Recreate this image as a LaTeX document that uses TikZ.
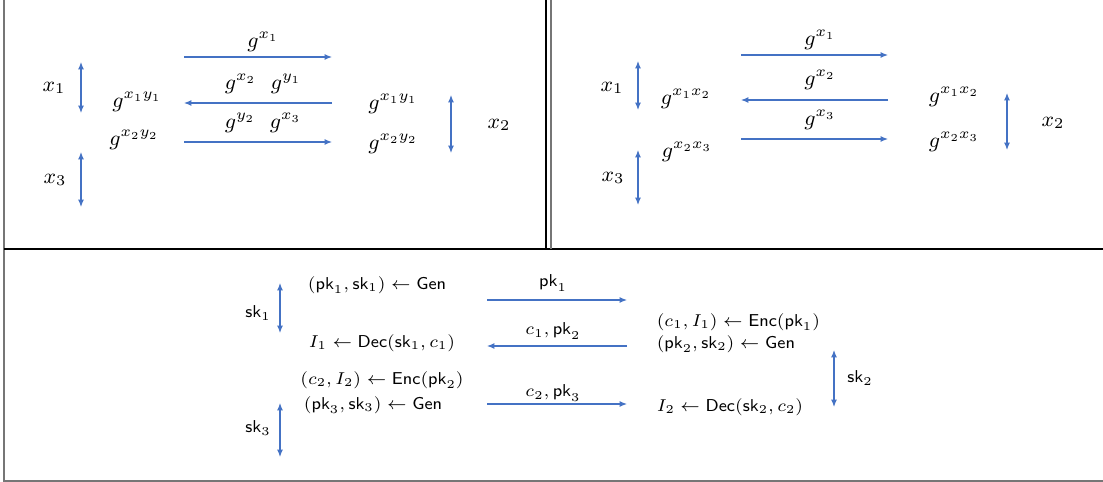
\RequirePackage{fix-cm}
\documentclass[tikz,border=0pt]{standalone}
\usepackage{amsmath,amssymb}
\usetikzlibrary{arrows.meta}
\definecolor{ArrBlue}{HTML}{4472C4}
\definecolor{FrameGray}{HTML}{767676}
\tikzset{
  msg/.style={ArrBlue,line width=0.5pt,-{Latex[length=3.2pt,width=2.6pt]}},
  keyarr/.style={ArrBlue,line width=0.5pt,{Latex[length=3.2pt,width=2.6pt]}-{Latex[length=3.2pt,width=2.6pt]}},
  val/.style={inner sep=1pt,font=\fontsize{9.2}{11}\selectfont},
  lab/.style={inner sep=1pt,font=\fontsize{7.4}{9}\selectfont},
}

\begin{document}
\begin{tikzpicture}[x=0.43pt,y=-0.43pt]
  \useasboundingbox (0,0) rectangle (1103,482);
  % frames
  \draw[FrameGray,line width=0.9pt] (4,0) -- (4,481) -- (1103,481);
  \draw[black,line width=0.7pt] (4,249) -- (1103,249);
  \draw[black,line width=0.7pt] (546,0) -- (546,249);
  \draw[FrameGray,line width=0.9pt] (551,0) -- (551,249);

  % top left: three parties, two rounds
  \node[val] (la) at (54,88) {$x_1$};
  \node[val] (lc) at (55,180) {$x_3$};
  \node[val] (lb) at (499,125) {$x_2$};
  \coordinate (la1) at (81,62);  \coordinate (la2) at (81,113);
  \coordinate (lc1) at (81,152); \coordinate (lc2) at (81,207);
  \coordinate (lb1) at (451,95); \coordinate (lb2) at (451,153);
  \draw[keyarr] (la1) -- (la2);
  \draw[keyarr] (lc1) -- (lc2);
  \draw[keyarr] (lb1) -- (lb2);
  \node[val] (lk1) at (137,102) {$g^{x_1y_1}$};
  \node[val] (lk2) at (134,140) {$g^{x_2y_2}$};
  \node[val] (rk1) at (393,104) {$g^{x_1y_1}$};
  \node[val] (rk2) at (393,144) {$g^{x_2y_2}$};
  \coordinate (lm1s) at (184,57);  \coordinate (lm1e) at (332,57);
  \coordinate (lm2s) at (332,103); \coordinate (lm2e) at (184,103);
  \coordinate (lm3s) at (184,142); \coordinate (lm3e) at (332,142);
  \draw[msg] (lm1s) -- (lm1e);
  \draw[msg] (lm2s) -- (lm2e);
  \draw[msg] (lm3s) -- (lm3e);
  \node[val] (lt1) at (263,42) {$g^{x_1}$};
  \node[val] (lt2) at (263,84) {$g^{x_2}\ \ g^{y_1}$};
  \node[val] (lt3) at (263,123) {$g^{y_2}\ \ g^{x_3}$};

  % top right: three parties, one key each
  \node[val] (ra) at (612,88) {$x_1$};
  \node[val] (rc) at (613,178) {$x_3$};
  \node[val] (rb) at (1053,123) {$x_2$};
  \coordinate (ra1) at (638,61);   \coordinate (ra2) at (638,110);
  \coordinate (rc1) at (638,150);  \coordinate (rc2) at (638,205);
  \coordinate (rb1) at (1007,93);  \coordinate (rb2) at (1007,150);
  \draw[keyarr] (ra1) -- (ra2);
  \draw[keyarr] (rc1) -- (rc2);
  \draw[keyarr] (rb1) -- (rb2);
  \node[val] (sk1) at (686,99) {$g^{x_1x_2}$};
  \node[val] (sk2) at (687,152) {$g^{x_2x_3}$};
  \node[val] (sk3) at (954,97) {$g^{x_1x_2}$};
  \node[val] (sk4) at (954,142) {$g^{x_2x_3}$};
  \coordinate (rm1s) at (741,55);  \coordinate (rm1e) at (888,55);
  \coordinate (rm2s) at (888,100); \coordinate (rm2e) at (741,100);
  \coordinate (rm3s) at (741,139); \coordinate (rm3e) at (888,139);
  \draw[msg] (rm1s) -- (rm1e);
  \draw[msg] (rm2s) -- (rm2e);
  \draw[msg] (rm3s) -- (rm3e);
  \node[val] (rt1) at (820,40) {$g^{x_1}$};
  \node[val] (rt2) at (820,80) {$g^{x_2}$};
  \node[val] (rt3) at (820,120) {$g^{x_3}$};

  % bottom: encryption based version
  \node[lab] (ska) at (258,313) {$\mathsf{sk}_1$};
  \node[lab] (skc) at (258,428) {$\mathsf{sk}_3$};
  \node[lab] (skb) at (860,378) {$\mathsf{sk}_2$};
  \coordinate (ska1) at (280,283); \coordinate (ska2) at (280,333);
  \coordinate (skc1) at (280,403); \coordinate (skc2) at (280,457);
  \coordinate (skb1) at (834,350); \coordinate (skb2) at (834,407);
  \draw[keyarr] (ska1) -- (ska2);
  \draw[keyarr] (skc1) -- (skc2);
  \draw[keyarr] (skb1) -- (skb2);
  \node[lab] (p1gen) at (377,285) {$(\mathsf{pk}_1,\mathsf{sk}_1)\leftarrow\mathsf{Gen}$};
  \node[lab] (p1dec) at (382,343) {$I_1\leftarrow\mathsf{Dec}(\mathsf{sk}_1,c_1)$};
  \node[lab] (p1enc) at (382,380) {$(c_2,I_2)\leftarrow\mathsf{Enc}(\mathsf{pk}_2)$};
  \node[lab] (p3gen) at (373,405) {$(\mathsf{pk}_3,\mathsf{sk}_3)\leftarrow\mathsf{Gen}$};
  \node[lab,anchor=west] (p2enc) at (654,322) {$(c_1,I_1)\leftarrow\mathsf{Enc}(\mathsf{pk}_1)$};
  \node[lab,anchor=west] (p2gen) at (654,344) {$(\mathsf{pk}_2,\mathsf{sk}_2)\leftarrow\mathsf{Gen}$};
  \node[lab,anchor=west] (p2dec) at (654,407) {$I_2\leftarrow\mathsf{Dec}(\mathsf{sk}_2,c_2)$};
  \coordinate (bm1s) at (487,300); \coordinate (bm1e) at (627,300);
  \coordinate (bm2s) at (627,346); \coordinate (bm2e) at (487,346);
  \coordinate (bm3s) at (487,404); \coordinate (bm3e) at (627,404);
  \draw[msg] (bm1s) -- (bm1e);
  \draw[msg] (bm2s) -- (bm2e);
  \draw[msg] (bm3s) -- (bm3e);
  \node[lab] (bt1) at (553,283) {$\mathsf{pk}_1$};
  \node[lab] (bt2) at (553,331) {$c_1,\mathsf{pk}_2$};
  \node[lab] (bt3) at (553,393) {$c_2,\mathsf{pk}_3$};
\end{tikzpicture}
\end{document}
